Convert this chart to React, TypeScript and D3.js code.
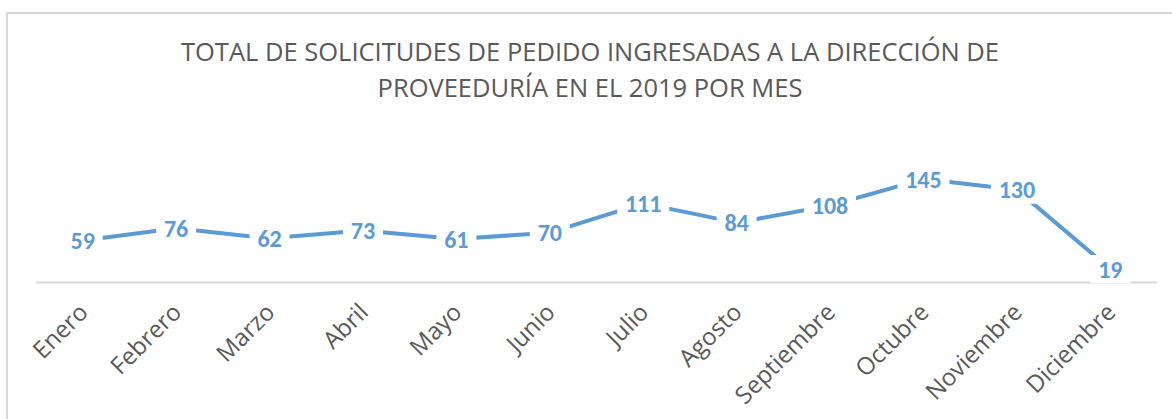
import React from "react";
import * as d3 from "d3";

const months = ["Enero","Febrero","Marzo","Abril","Mayo","Junio","Julio","Agosto","Septiembre","Octubre","Noviembre","Diciembre"];
const values = [59, 76, 62, 73, 61, 70, 111, 84, 108, 145, 130, 19];
const titleLines = ["TOTAL DE SOLICITUDES DE PEDIDO INGRESADAS A LA DIRECCIÓN DE", "PROVEEDURÍA EN EL 2019 POR MES"];

const W = 1172, H = 419;
const FONT = "Carlito, Calibri, Lato, sans-serif";
const FONT2 = "'Open Sans', sans-serif";

export default function App() {
  const x = d3.scaleBand<string>().domain(months).range([36, 1157]).padding(0);
  const y = d3.scaleLinear().domain([0, 160]).range([282.6, 168.4]);
  const cx = (m: string) => (x(m) as number) + x.bandwidth() / 2;
  const line = d3.line<number>().x((_, i) => cx(months[i])).y((d) => y(d));
  return (
    <svg width={W} height={H} style={{ position: "absolute", left: 0, top: 0, background: "#fff" }}>
      <rect x={7} y={13} width={W + 10} height={H + 10} fill="#fff" stroke="#D9D9D9" strokeWidth={2} />
      {titleLines.map((t, i) => (
        <text key={i} x={590} y={61 + i * 36} textAnchor="middle" fontFamily={FONT2} fontSize={25.5} fill="#595959">{t}</text>
      ))}
      <line x1={36} x2={1157} y1={y(0)} y2={y(0)} stroke="#D9D9D9" strokeWidth={2} />
      <path d={line(values) || ""} fill="none" stroke="#5B9BD5" strokeWidth={4} strokeLinejoin="round" />
      {values.map((v, i) => {
        const s = String(v);
        const w = s.length * 12 + 16;
        return (
          <g key={i}>
            <rect x={cx(months[i]) - w / 2} y={y(v) - 14} width={w} height={28} fill="#fff" />
            <text x={cx(months[i])} y={y(v)} dy="0.36em" textAnchor="middle" fontFamily={FONT} fontWeight="bold" fontSize={24} fill="#5B9BD5">{s}</text>
          </g>
        );
      })}
      {months.map((m) => (
        <text key={m} transform={`translate(${cx(m) - 6},${301}) rotate(-45)`} textAnchor="end" dy="0.75em" fontFamily={FONT2} fontSize={24} fill="#595959">{m}</text>
      ))}
    </svg>
  );
}
